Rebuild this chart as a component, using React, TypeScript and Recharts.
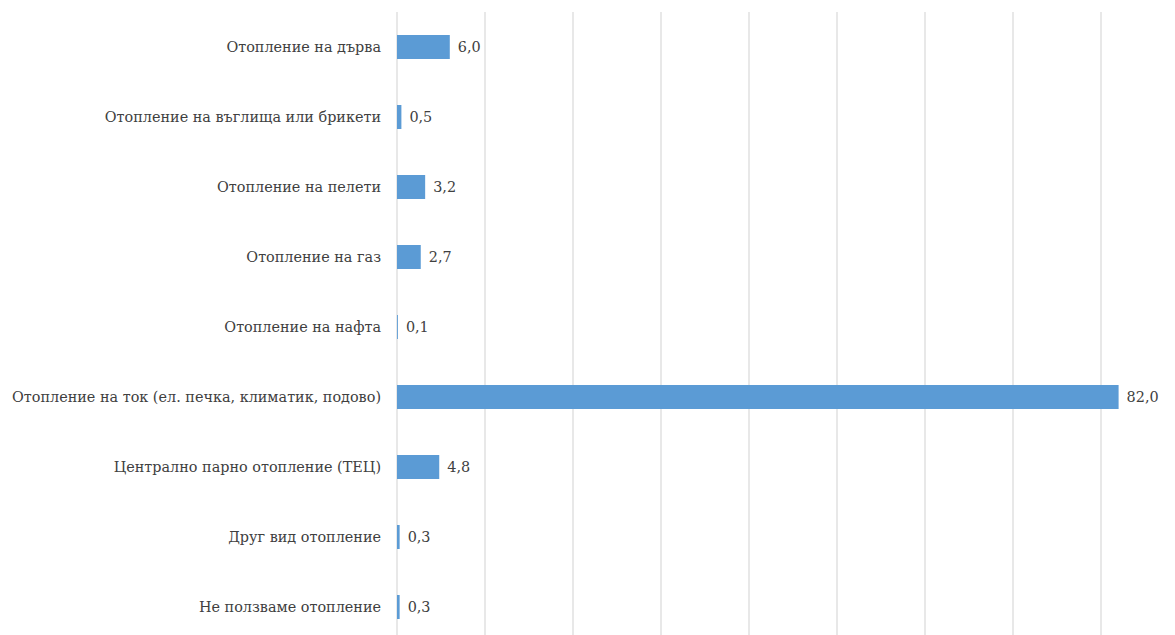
import { BarChart, Bar, XAxis, YAxis, CartesianGrid, LabelList } from 'recharts'

// Вид отопление, %
const categories = [
  'Отопление на дърва',
  'Отопление на въглища или брикети',
  'Отопление на пелети',
  'Отопление на газ',
  'Отопление на нафта',
  'Отопление на ток (ел. печка, климатик, подово)',
  'Централно парно отопление (ТЕЦ)',
  'Друг вид отопление',
  'Не ползваме отопление',
]
const values = [6.0, 0.5, 3.2, 2.7, 0.1, 82.0, 4.8, 0.3, 0.3]
const xTicks = [0, 10, 20, 30, 40, 50, 60, 70, 80, 90]

const data = categories.map((name, i) => ({ name, value: values[i] }))

const FONT = 'DejaVu Serif'
const TEXT = '#404040'

export default function App() {
  return (
    <div style={{ width: 1175, height: 635, overflow: 'hidden', background: '#fff', fontFamily: FONT }}>
      <style>{'body{margin:0}'}</style>
      <BarChart
        width={1200}
        height={645}
        data={data}
        layout="vertical"
        margin={{ top: 12, right: 11, left: 0, bottom: 3 }}
        style={{ fontFamily: FONT }}
      >
        <CartesianGrid horizontal={false} stroke="#d9d9d9" strokeWidth={1.2} />
        <XAxis type="number" domain={[0, 90]} ticks={xTicks} hide />
        <YAxis
          type="category"
          dataKey="name"
          width={397}
          tickLine={false}
          axisLine={false}
          tickMargin={10}
          interval={0}
          tick={{ fill: TEXT, fontSize: 14.4, fontFamily: FONT }}
        />
        <Bar dataKey="value" fill="#5b9bd5" barSize={24} isAnimationActive={false}>
          <LabelList
            dataKey="value"
            position="right"
            offset={8}
            formatter={(v: number) => v.toFixed(1).replace('.', ',')}
            fill={TEXT}
            fontSize={14.4}
            fontFamily={FONT}
          />
        </Bar>
      </BarChart>
    </div>
  )
}
